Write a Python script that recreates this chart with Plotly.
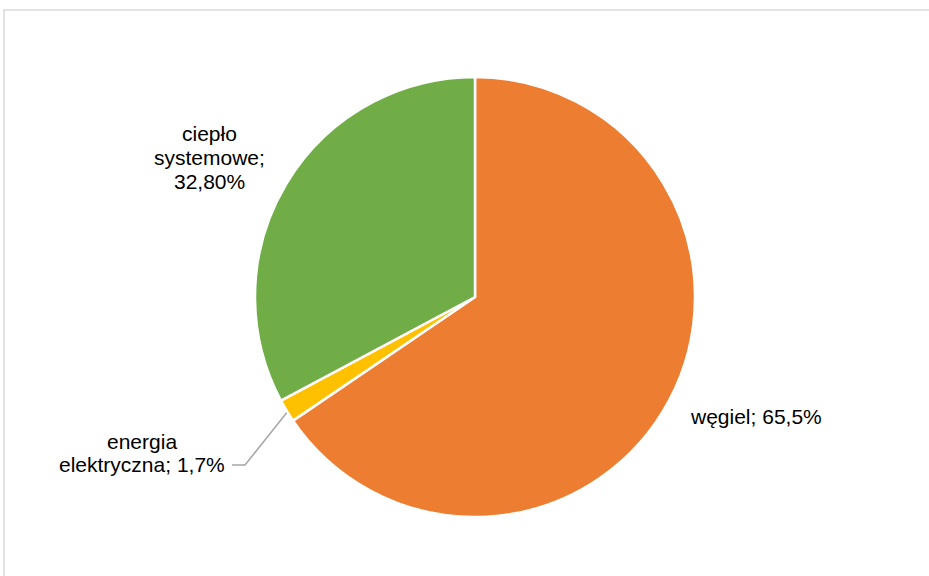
import math
import plotly.graph_objects as go

categories = ["węgiel", "energia elektryczna", "ciepło systemowe"]
values = [65.5, 1.7, 32.8]
colors = ["#ED7D31", "#FFC000", "#70AD47"]
label_lines = {
    "węgiel": ["węgiel; 65,5%"],
    "energia elektryczna": ["energia", "elektryczna; 1,7%"],
    "ciepło systemowe": ["ciepło", "systemowe;", "32,80%"],
}

W, H = 929, 576
CX, CY, R = 475, 297, 220  # pie centre / radius in pixels (from top)

def px(x):
    return x / W

def py(y):
    return 1 - y / H

fig = go.Figure(go.Pie(
    labels=categories,
    values=values,
    sort=False,
    direction="clockwise",
    rotation=0,
    marker=dict(colors=colors, line=dict(color="white", width=2.5)),
    textinfo="none",
    hoverinfo="label+percent",
    showlegend=False,
    domain=dict(x=[px(CX - R), px(CX + R)], y=[py(CY + R), py(CY - R)]),
))

font = dict(family="Liberation Sans, Arial, sans-serif", size=21, color="#000000")
# label line positions (pixel centres)
pos = {
    "węgiel": [(756, 416)],
    "energia elektryczna": [(142, 441), (142, 464)],
    "ciepło systemowe": [(209, 133), (209, 157), (209, 181)],
}
ann = []
for cat in categories:
    for text, (x, y) in zip(label_lines[cat], pos[cat]):
        ann.append(dict(x=px(x), y=py(y), text=text, xref="paper", yref="paper",
                        showarrow=False, font=font, xanchor="center", yanchor="middle"))

# leader line for energia elektryczna, starting from the slice mid-angle
total = sum(values)
start = values[0] / total * 360
mid = math.radians(start + values[1] / total * 360 / 2)
sx = CX + R * math.sin(mid)
sy = CY - R * math.cos(mid)
path = f"M {px(sx)},{py(sy + 2)} L {px(245)},{py(465)} L {px(232)},{py(465)}"

shapes = [
    dict(type="path", xref="paper", yref="paper", path=path,
         line=dict(color="#A6A6A6", width=1.5)),
    dict(type="rect", xref="paper", yref="paper",
         x0=px(4), x1=1.02, y0=-0.02, y1=py(10),
         line=dict(color="#D9D9D9", width=1.5), fillcolor="rgba(0,0,0,0)"),
]

fig.update_layout(
    width=W, height=H,
    margin=dict(l=0, r=0, t=0, b=0),
    paper_bgcolor="white",
    plot_bgcolor="white",
    annotations=ann,
    shapes=shapes,
)

fig.write_html("out.html", config={"displayModeBar": False},
               post_script="document.body.style.margin='0';document.body.style.padding='0';")
